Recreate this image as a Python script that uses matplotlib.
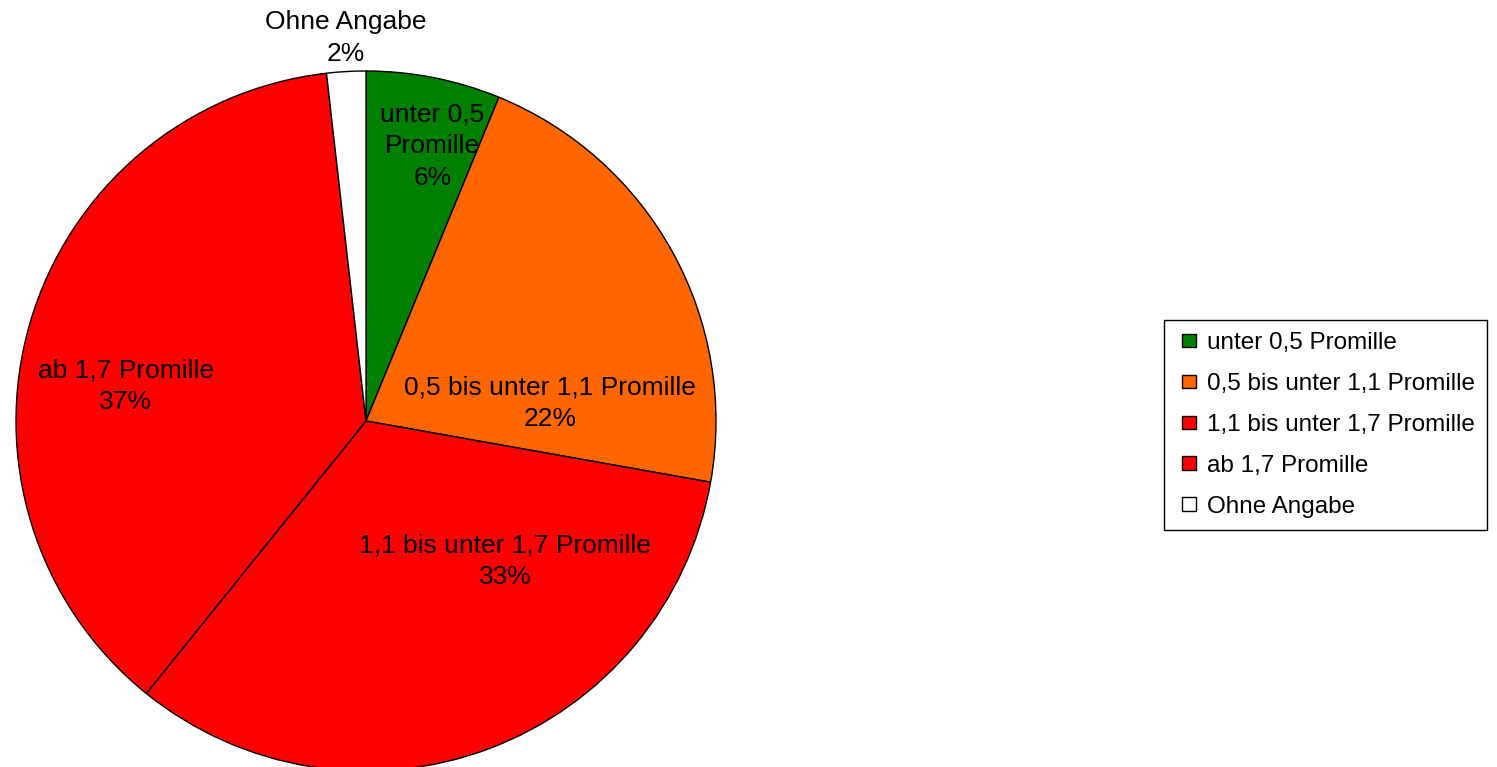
import matplotlib
matplotlib.use("Agg")
import matplotlib.pyplot as plt
from matplotlib.patches import Rectangle, Wedge
from matplotlib.legend_handler import HandlerPatch

plt.rcParams["font.family"] = ["Liberation Sans", "DejaVu Sans"]

categories = ["unter 0,5 Promille", "0,5 bis unter 1,1 Promille",
              "1,1 bis unter 1,7 Promille", "ab 1,7 Promille", "Ohne Angabe"]
shares = [6.2, 21.6, 33.0, 37.4, 1.8]
pct_labels = ["6%", "22%", "33%", "37%", "2%"]
slice_labels = ["unter 0,5\nPromille", "0,5 bis unter 1,1 Promille",
                "1,1 bis unter 1,7 Promille", "ab 1,7 Promille", "Ohne Angabe"]
colors = ["#008000", "#FF6600", "#FF0000", "#FF0000", "#FFFFFF"]

W, H = 1497, 767
fig = plt.figure(figsize=(W / 100, H / 100), dpi=100)

# pie axes: centre (366,421) px, radius 350 px
cx, cy, r = 366, 421, 350
ax = fig.add_axes([(cx - r) / W, (H - cy - r) / H, 2 * r / W, 2 * r / H])

wedges, _ = ax.pie(shares, colors=colors, startangle=90, counterclock=False,
                   radius=1, wedgeprops=dict(edgecolor="black", linewidth=1.0))
ax.set_xlim(-1, 1)
ax.set_ylim(-1, 1)
ax.set_aspect("equal")
ax.axis("off")

# label positions (axis units)
label_pos = [(0.19, 0.785), (0.526, 0.05), (0.397, -0.40), (-0.686, 0.10), (-0.057, 1.095)]
for (x, y), name, pct in zip(label_pos, slice_labels, pct_labels):
    ax.text(x, y, name + "\n" + pct, ha="center", va="center", fontsize=19,
            linespacing=1.4, clip_on=False)


def square_handle(legend, orig_handle, xdescent, ydescent, width, height, fontsize):
    s = height
    return Rectangle((-xdescent + width - s, -ydescent), s, s)


leg = fig.legend(wedges, categories, loc="upper left",
                 bbox_to_anchor=(1164 / W, (H - 320) / H), fontsize=17.5,
                 frameon=True, fancybox=False, framealpha=1,
                 edgecolor="black", handlelength=0.8, handleheight=0.5,
                 handletextpad=0.45, labelspacing=0.78, borderpad=0.5,
                 borderaxespad=0,
                 handler_map={Wedge: HandlerPatch(patch_func=square_handle)})
leg.get_frame().set_linewidth(1.0)

fig.savefig("out.png", dpi=100)
